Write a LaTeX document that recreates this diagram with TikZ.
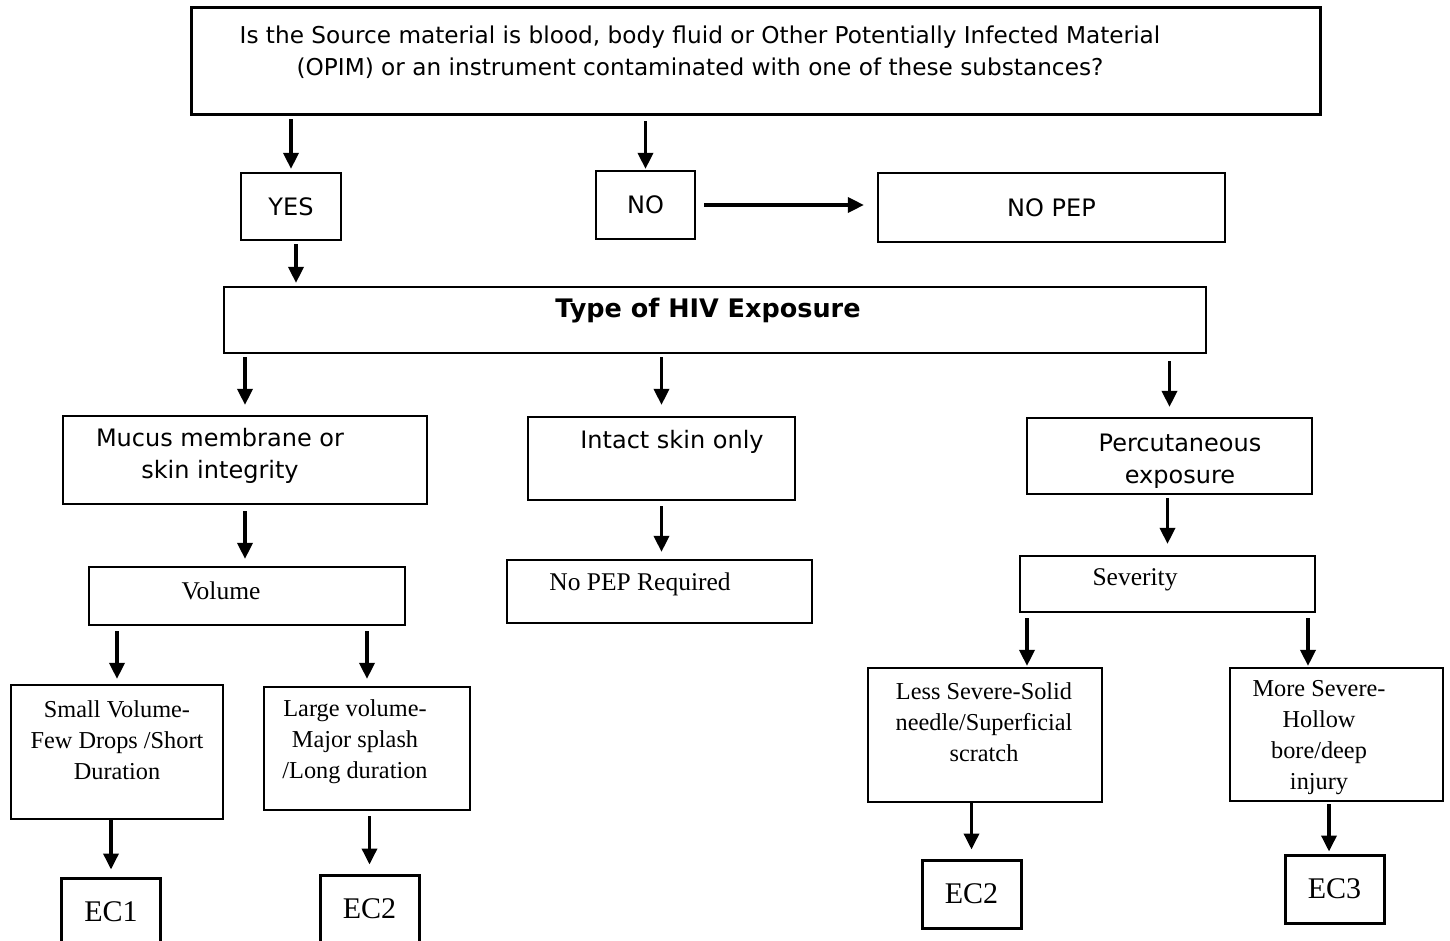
\documentclass[tikz,border=0pt]{standalone}
\usepackage{fontspec}
\setmainfont{Liberation Serif}
\newfontfamily\versa{DejaVu Sans}
\usepackage{tikz}
\usetikzlibrary{positioning}
\usetikzlibrary{arrows.meta}
\tikzset{box/.style={draw, line width=2.2pt, inner sep=0pt}}
\tikzset{ecbox/.style={box, line width=3pt, minimum width=99pt, minimum height=68pt}}
\tikzset{arr/.style={line width=3.5pt, -{Triangle[length=16pt,width=15pt]}}}
\tikzset{sf/.style={font=\versa\fontsize{24}{31.5}\selectfont, align=center, inner sep=0pt}}
\tikzset{rm/.style={font=\fontsize{25.5}{31}\selectfont, align=center, inner sep=0pt}}
\tikzset{rmsmall/.style={rm, font=\fontsize{24.3}{31}\selectfont}}

\begin{document}
\begin{tikzpicture}[x=1pt, y=-1pt]
\clip (0,0) rectangle (1450,941);
% question and answers
\node[box, line width=3pt, minimum width=1129pt, minimum height=107pt] (src) at (755.5,61.5) {};
\node[sf, font=\versa\fontsize{23.2}{31.5}\selectfont] (srctxt) at (700,52) {Is the Source material is blood, body fluid or Other Potentially Infected Material\\(OPIM) or an instrument contaminated with one of these substances?};
\node[box, minimum width=100pt, minimum height=67pt, sf] (yes) at (291,206.5) {YES};
\node[box, minimum width=99pt, minimum height=68pt, sf] (no) at (645.5,205) {NO};
\node[box, minimum width=347pt, minimum height=69pt, sf] (nopep) at (1051.5,207.5) {NO PEP};
% exposure
\node[box, minimum width=982pt, minimum height=66pt] (type) at (715,320) {};
\node[sf, font=\versa\bfseries\fontsize{25.5}{31}\selectfont] (typetxt) at (708,311) {Type of HIV Exposure};
\node[box, minimum width=364pt, minimum height=88pt] (mucus) at (245,460) {};
\node[sf] (mucustxt) at (220,456) {Mucus membrane or\\skin integrity};
\node[box, minimum width=267pt, minimum height=83pt] (intact) at (661.5,458.5) {};
\node[sf] (intacttxt) at (672,442) {Intact skin only};
\node[box, minimum width=285pt, minimum height=76pt] (percut) at (1169.5,456) {};
\node[sf] (percuttxt) at (1180,461) {Percutaneous\\exposure};
% second level
\node[box, minimum width=316pt, minimum height=58pt] (volume) at (247,596) {};
\node[rm] (volumetxt) at (221,591) {Volume};
\node[box, minimum width=305pt, minimum height=63pt] (noreq) at (659.5,591.5) {};
\node[rm] (noreqtxt) at (640,584) {No PEP Required};
\node[box, minimum width=295pt, minimum height=56pt] (sev) at (1167.5,584) {};
\node[rm] (sevtxt) at (1135,580) {Severity};
% third level
\node[box, minimum width=212pt, minimum height=134pt] (small) at (117,752) {};
\node[rmsmall] (smalltxt) at (117,740) {Small Volume-\\Few Drops /Short\\Duration};
\node[box, minimum width=206pt, minimum height=123pt] (large) at (367,748.5) {};
\node[rmsmall] (largetxt) at (355,742) {Large volume-\\Major splash\\/Long duration};
\node[box, minimum width=234pt, minimum height=134pt] (less) at (985,735) {};
\node[rmsmall] (lesstxt) at (984,722) {Less Severe-Solid\\needle/Superficial\\scratch};
\node[box, minimum width=213pt, minimum height=133pt] (more) at (1336.5,734.5) {};
\node[rmsmall] (moretxt) at (1319,737.5) {More Severe-\\Hollow\\bore/deep\\injury};
% categories
\node[ecbox, rm, font=\fontsize{30}{31}\selectfont] (ec1) at (111,912) {EC1};
\node[ecbox, rm, font=\fontsize{30}{31}\selectfont] (ec2a) at (369.5,909) {EC2};
\node[ecbox, rm, font=\fontsize{30}{31}\selectfont] (ec2b) at (971.5,894) {EC2};
\node[ecbox, rm, font=\fontsize{30}{31}\selectfont] (ec3) at (1334.5,889) {EC3};
\coordinate (xa) at (296,0);
\coordinate (xb) at (1027,0);
\coordinate (xc) at (1308,0);
\coordinate (xd) at (1329,0);
% arrows
\draw[arr, shorten <=3pt, shorten >=3pt] (yes |- src.south) -- (yes.north);
\draw[arr, shorten <=5pt, shorten >=1pt] (no |- src.south) -- (no.north);
\draw[arr, shorten <=8pt, shorten >=13pt] (no.east) -- (nopep.west |- no.east);
\draw[arr, shorten <=3pt, shorten >=3pt] (xa |- yes.south) -- (xa |- type.north);
\draw[arr, shorten <=3pt, shorten >=10pt] (mucus |- type.south) -- (mucus.north);
\draw[arr, shorten <=3pt, shorten >=11pt] (intact |- type.south) -- (intact.north);
\draw[arr, shorten <=7pt, shorten >=10pt] (percut |- type.south) -- (percut.north);
\draw[arr, shorten <=6pt, shorten >=7pt] (mucus.south) -- (mucus.south |- volume.north);
\draw[arr, shorten <=5pt, shorten >=7pt] (intact.south) -- (intact.south |- noreq.north);
\draw[arr, shorten <=3pt, shorten >=11pt] (sev |- percut.south) -- (sev.north);
\draw[arr, shorten <=5pt, shorten >=5pt] (small |- volume.south) -- (small.north);
\draw[arr, shorten <=5pt, shorten >=7pt] (large |- volume.south) -- (large.north);
\draw[arr, shorten <=5pt, shorten >=1pt] (xb |- sev.south) -- (xb |- less.north);
\draw[arr, shorten <=5pt, shorten >=1pt] (xc |- sev.south) -- (xc |- more.north);
\draw[arr, shorten >=7pt] (ec1 |- small.south) -- (ec1.north);
\draw[arr, shorten <=5pt, shorten >=9pt] (ec2a |- large.south) -- (ec2a.north);
\draw[arr, shorten <=-2pt, shorten >=9pt] (ec2b |- less.south) -- (ec2b.north);
\draw[arr, shorten <=2pt, shorten >=2pt] (xd |- more.south) -- (xd |- ec3.north);
\end{tikzpicture}
\end{document}
